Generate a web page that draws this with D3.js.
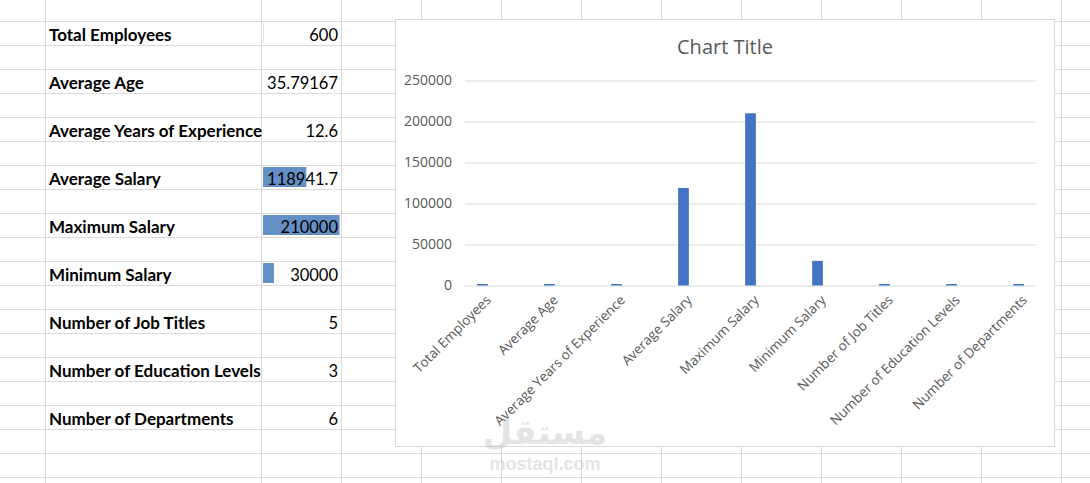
<!DOCTYPE html>
<html lang="en">
<head>
    <meta charset="UTF-8">
    <title>Employee Summary</title>
    <script src="https://d3js.org/d3.v7.min.js"></script>
    <style>
        body { margin: 0; background: #fff; }
        svg { display: block; }
        .cell-label { font-family: Lato, sans-serif; font-weight: 700; font-size: 17px; fill: #000; }
        .cell-value { font-family: Lato, sans-serif; font-size: 16.5px; fill: #000; }
        .chart-text { font-family: "Open Sans", sans-serif; fill: #595959; }
    </style>
</head>
<body>
<div id="sheet"></div>
<script>
// Summary data
const categories = [
    'Total Employees', 'Average Age', 'Average Years of Experience',
    'Average Salary', 'Maximum Salary', 'Minimum Salary',
    'Number of Job Titles', 'Number of Education Levels', 'Number of Departments'
];
const values = [600, 35.79167, 12.6, 118941.7, 210000, 30000, 5, 3, 6];
const valueLabels = ['600', '35.79167', '12.6', '118941.7', '210000', '30000', '5', '3', '6'];
const yTicks = [0, 50000, 100000, 150000, 200000, 250000];

const W = 1090, H = 483;
const svg = d3.select('#sheet').append('svg')
    .attr('width', W)
    .attr('height', H);

svg.append('rect').attr('width', W).attr('height', H).attr('fill', '#fff');

// spreadsheet grid
const colLines = [45.5, 261.5].concat(d3.range(341.5, W, 80));
const rowLines = d3.range(21.5, H, 24);
const grid = svg.append('g').attr('stroke', '#dadada').attr('stroke-width', 1);
grid.selectAll('.vl').data(colLines).enter().append('line')
    .attr('x1', d => d).attr('x2', d => d).attr('y1', 0).attr('y2', H);
grid.selectAll('.hl').data(rowLines).enter().append('line')
    .attr('x1', 0).attr('x2', W).attr('y1', d => d).attr('y2', d => d);

// table rows (every other row)
const rowTop = i => 21.5 + 48 * i;

// data bars in the value column
const dbar = d3.scaleLinear()
    .domain([d3.min(values), d3.max(values)])
    .range([0, 76.5]);
svg.append('g').selectAll('rect')
    .data(values)
  .enter().append('rect')
    .attr('x', 263)
    .attr('y', (d, i) => rowTop(i) + 1.5)
    .attr('width', d => dbar(d))
    .attr('height', 20)
    .attr('fill', '#638ec6');

svg.append('g').selectAll('text')
    .data(categories)
  .enter().append('text')
    .attr('class', 'cell-label')
    .attr('x', 49)
    .attr('y', (d, i) => rowTop(i) + 19)
    .text(d => d);

svg.append('g').selectAll('text')
    .data(valueLabels)
  .enter().append('text')
    .attr('class', 'cell-value')
    .attr('x', 338)
    .attr('y', (d, i) => rowTop(i) + 19)
    .attr('text-anchor', 'end')
    .text(d => d);

// chart box
const box = { x: 395.5, y: 19.5, w: 659, h: 427 };
svg.append('rect')
    .attr('x', box.x).attr('y', box.y)
    .attr('width', box.w).attr('height', box.h)
    .attr('fill', '#fff')
    .attr('stroke', '#d9d9d9');

svg.append('text')
    .attr('class', 'chart-text')
    .attr('x', 725)
    .attr('y', 54)
    .attr('text-anchor', 'middle')
    .style('font-size', '20px')
    .text('Chart Title');

const plot = { left: 465, right: 1036, top: 80.5, bottom: 285.5 };

const x = d3.scaleBand()
    .domain(categories)
    .range([plot.left, plot.right])
    .paddingInner(0.84)
    .paddingOuter(0.18);

const y = d3.scaleLinear()
    .domain([0, 250000])
    .range([plot.bottom, plot.top]);

// gridlines + y labels
const yAxis = svg.append('g')
    .attr('transform', `translate(${plot.left},0)`)
    .call(d3.axisLeft(y).tickValues(yTicks).tickSize(-(plot.right - plot.left)).tickPadding(13).tickFormat(d3.format('d')));
yAxis.select('.domain').remove();
yAxis.selectAll('.tick line').attr('stroke', '#d9d9d9');
yAxis.selectAll('.tick text')
    .attr('class', 'chart-text')
    .style('font-size', '14px')
    .attr('fill', '#595959');

// bars
svg.append('g').selectAll('rect')
    .data(values)
  .enter().append('rect')
    .attr('x', (d, i) => x(categories[i]))
    .attr('width', x.bandwidth())
    .attr('y', d => Math.min(y(d), plot.bottom - 1.5))
    .attr('height', d => Math.max(plot.bottom - y(d), 1.5))
    .attr('fill', '#4472c4');

// x labels
svg.append('g').selectAll('text')
    .data(categories)
  .enter().append('text')
    .attr('class', 'chart-text')
    .style('font-size', '13.5px')
    .attr('text-anchor', 'end')
    .attr('transform', d => `translate(${x(d) + x.bandwidth() / 2 + 6},${plot.bottom + 12}) rotate(-45)`)
    .attr('dy', '0.35em')
    .text(d => d);

// watermark
const wm = svg.append('g').attr('opacity', 0.35).attr('fill', '#b5b5b5');
wm.append('text')
    .attr('x', 545).attr('y', 444)
    .attr('text-anchor', 'middle')
    .style('font-family', 'DejaVu Sans').style('font-weight', 700).style('font-size', '34px')
    .text('مستقل');
wm.append('text')
    .attr('x', 545).attr('y', 470)
    .attr('text-anchor', 'middle')
    .style('font-family', 'Liberation Sans').style('font-weight', 700).style('font-size', '18px')
    .text('mostaql.com');
</script>
</body>
</html>
